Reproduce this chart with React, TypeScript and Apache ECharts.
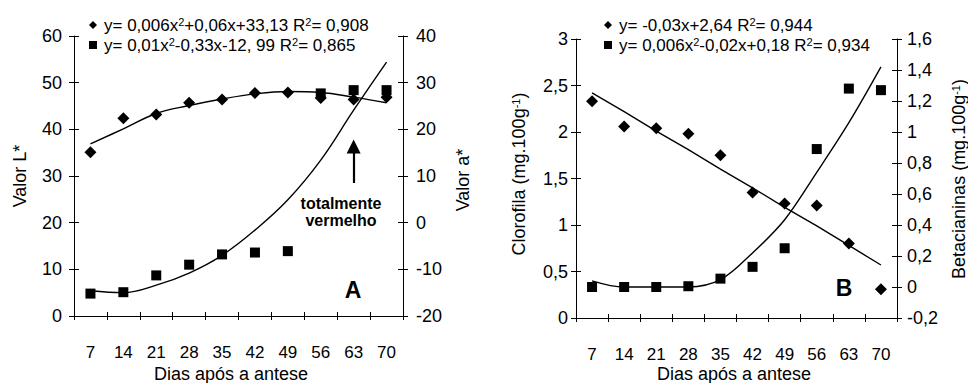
import React, { useEffect, useRef } from 'react';
import * as echarts from 'echarts';

// Days after anthesis (shared category axis of both panels)
const days = ['7', '14', '21', '28', '35', '42', '49', '56', '63', '70'];

// Panel A – colour coordinates of the peel
const valorL = [35.1, 42.4, 43.2, 45.7, 46.4, 47.8, 47.9, 46.7, 46.4, 46.9];
const valorA = [-15.2, -14.9, -11.3, -9.0, -6.8, -6.4, -6.1, 27.7, 28.4, 28.4];
const valorLFit = [36.9, 40.1, 43.4, 45.1, 46.5, 47.6, 48.1, 47.9, 46.9, 45.7];
const valorAFit = [-14.6, -15.0, -13.4, -10.8, -7.0, -1.6, 4.9, 13.4, 24.1, 34.4];

// Panel B – pigments (mg.100g-1)
const clorofila = [2.33, 2.06, 2.04, 1.98, 1.75, 1.35, 1.23, 1.21, 0.8, 0.31];
const betacianinas = [0.0, 0.0, 0.0, 0.005, 0.054, 0.13, 0.25, 0.89, 1.28, 1.27];
const clorofilaFit = [2.42, 2.22, 2.01, 1.81, 1.6, 1.4, 1.19, 0.99, 0.78, 0.57];
const betacianinasFit = [0.04, 0.0, 0.0, 0.0, 0.047, 0.22, 0.434, 0.74, 1.06, 1.42];

// Regression equations shown in the legends
const equations: Record<string, string> = {
  'L*': 'y= 0,006x{sup|2}+0,06x+33,13 R{sup|2}= 0,908',
  'a*': 'y= 0,01x{sup|2}-0,33x-12, 99 R{sup|2}= 0,865',
  Clorofila: 'y= -0,03x+2,64 R{sup|2}= 0,944',
  Betacianinas: 'y= 0,006x{sup|2}-0,02x+0,18 R{sup|2}= 0,934',
};

const FONT = '"Liberation Sans", Arial, Helvetica, sans-serif';
const BLACK = '#000';

const comma = (v: number) => String(Math.round(v * 10) / 10).replace('.', ',');

function catAxis(gridIndex: number, main: boolean) {
  return {
    type: 'category',
    gridIndex,
    data: days,
    boundaryGap: true,
    position: 'bottom',
    axisLine: { show: main, onZero: false, lineStyle: { color: BLACK, width: 1 } },
    axisTick: { show: true, inside: !main, length: 4, lineStyle: { color: BLACK, width: 1 } },
    axisLabel: {
      show: main,
      margin: 28,
      color: BLACK,
      fontSize: 17,
      fontFamily: FONT,
    },
    splitLine: { show: false },
  };
}

function valAxis(
  gridIndex: number,
  position: 'left' | 'right',
  min: number,
  max: number,
  interval: number,
  main: boolean,
  margin: number,
  decimals: boolean
) {
  return {
    type: 'value',
    gridIndex,
    position,
    min,
    max,
    interval,
    axisLine: { show: main, onZero: false, lineStyle: { color: BLACK, width: 1 } },
    axisTick: { show: true, inside: !main, length: 5, lineStyle: { color: BLACK, width: 1 } },
    axisLabel: {
      show: main,
      margin,
      color: BLACK,
      fontSize: 18,
      fontFamily: FONT,
      formatter: (v: number) => (decimals ? comma(v) : String(Math.round(v))),
    },
    splitLine: { show: false },
  };
}

const supRich = {
  sup: { fontSize: 11, fontFamily: FONT, color: BLACK, verticalAlign: 'top', lineHeight: 10 },
};

function legend(names: string[], left: number, top: number) {
  return {
    orient: 'vertical',
    left,
    top,
    padding: 0,
    itemGap: 2,
    itemWidth: 8,
    itemHeight: 8,
    selectedMode: false,
    data: names.map((n, i) => ({ name: n, icon: i === 0 ? 'diamond' : 'rect' })),
    formatter: (name: string) => equations[name],
    textStyle: {
      fontSize: 17,
      fontFamily: FONT,
      color: BLACK,
      lineHeight: 18,
      padding: [0, 0, 0, 2],
      rich: supRich,
    },
  };
}

function label(text: string, x: number, y: number, opts: any = {}) {
  return {
    type: 'text',
    x,
    y,
    rotation: opts.rotation || 0,
    silent: true,
    style: {
      text,
      fill: BLACK,
      fontSize: opts.fontSize || 18,
      fontWeight: opts.fontWeight || 'normal',
      fontFamily: FONT,
      align: 'center',
      verticalAlign: 'middle',
      lineHeight: opts.lineHeight,
      rich: supRich,
    },
  };
}

function scatter(name: string, xAxisIndex: number, yAxisIndex: number, data: number[], symbol: string, size: number) {
  return {
    type: 'scatter',
    name,
    xAxisIndex,
    yAxisIndex,
    data,
    symbol,
    symbolSize: size,
    itemStyle: { color: BLACK, opacity: 1 },
    z: 3,
  };
}

function fitLine(xAxisIndex: number, yAxisIndex: number, data: number[], smooth: boolean | number, extra: any = {}) {
  return {
    type: 'line',
    xAxisIndex,
    yAxisIndex,
    data,
    smooth,
    showSymbol: false,
    symbol: 'none',
    lineStyle: { color: BLACK, width: 1.4 },
    silent: true,
    z: 2,
    ...extra,
  };
}

export default function App() {
  const ref = useRef<HTMLDivElement>(null);

  useEffect(() => {
    if (!ref.current) return;
    const chart = echarts.init(ref.current, undefined, { renderer: 'svg' });

    chart.setOption({
      animation: false,
      backgroundColor: '#fff',
      textStyle: { fontFamily: FONT, color: BLACK },
      grid: [
        { left: 74, top: 36, width: 329, height: 280, outerBoundsMode: 'none' },
        { left: 576, top: 39, width: 321, height: 279, outerBoundsMode: 'none' },
      ],
      legend: [legend(['L*', 'a*'], 89, 16), legend(['Clorofila', 'Betacianinas'], 604, 16)],
      xAxis: [catAxis(0, true), catAxis(0, false), catAxis(1, true), catAxis(1, false)],
      yAxis: [
        valAxis(0, 'left', 0, 60, 10, true, 12, false),
        valAxis(0, 'right', -20, 40, 10, true, 13, false),
        valAxis(0, 'left', 0, 60, 10, false, 12, false),
        valAxis(0, 'right', -20, 40, 10, false, 13, false),
        valAxis(1, 'left', 0, 3, 0.5, true, 8, true),
        valAxis(1, 'right', -0.2, 1.6, 0.2, true, 10, true),
        valAxis(1, 'left', 0, 3, 0.5, false, 8, true),
        valAxis(1, 'right', -0.2, 1.6, 0.2, false, 10, true),
      ],
      series: [
        fitLine(0, 0, valorLFit, 0.4),
        fitLine(0, 1, valorAFit, 0.4, {
          markLine: {
            silent: true,
            symbol: ['none', 'triangle'],
            symbolSize: 14,
            label: { show: false },
            lineStyle: { color: BLACK, width: 2.2, type: 'solid' },
            emphasis: { disabled: true },
            data: [[{ coord: ['63', 8.5] }, { coord: ['63', 16.3] }]],
          },
        }),
        scatter('L*', 0, 0, valorL, 'diamond', 12),
        scatter('a*', 0, 1, valorA, 'rect', 10),
        fitLine(2, 4, clorofilaFit, false),
        fitLine(2, 5, betacianinasFit, 0.35),
        scatter('Clorofila', 2, 4, clorofila, 'diamond', 12),
        scatter('Betacianinas', 2, 5, betacianinas, 'rect', 10),
      ],
      graphic: [
        label('Valor L*', 20, 176, { rotation: Math.PI / 2 }),
        label('Valor a*', 463, 180, { rotation: Math.PI / 2 }),
        label('Dias após a antese', 231, 374),
        label('totalmente\nvermelho', 341, 212, { fontSize: 16, fontWeight: 'bold', lineHeight: 17.5 }),
        label('A', 353, 290, { fontSize: 23, fontWeight: 'bold' }),
        label('Clorofila (mg.100g{sup|-1})', 519, 174, { rotation: Math.PI / 2 }),
        label('Betacianinas (mg.100g{sup|-1})', 959, 179, { rotation: Math.PI / 2 }),
        label('Dias após a antese', 734, 374),
        label('B', 844, 288, { fontSize: 23, fontWeight: 'bold' }),
      ],
    });

    return () => chart.dispose();
  }, []);

  return (
    <div
      ref={ref}
      style={{ position: 'absolute', left: 0, top: 0, width: 968, height: 383, background: '#fff' }}
    />
  );
}
